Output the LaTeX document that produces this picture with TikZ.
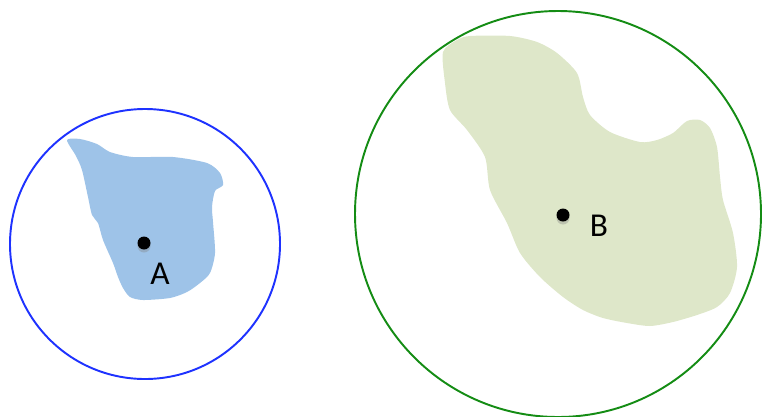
\documentclass[tikz,border=0pt]{standalone}
\usepackage{fontspec}
\setmainfont{Carlito}
\usepackage{tikz}
\usetikzlibrary{shadows,positioning}
\definecolor{rgBlue}{RGB}{30,50,255}
\definecolor{rgGreen}{RGB}{20,140,20}
\definecolor{rgFillBlue}{RGB}{158,195,232}
\definecolor{rgFillGreen}{RGB}{222,231,201}

\begin{document}
\begin{tikzpicture}[
  x=0.02cm, y=-0.02cm,
  font=\fontsize{19}{22}\selectfont,
  region/.style={draw=none, smooth cycle, tension=0.55},
  ring/.style={line width=1.1pt},
  pt/.style={circle, fill=black, inner sep=0pt, minimum size=0.26cm,
    drop shadow={opacity=0.35, shadow xshift=0pt, shadow yshift=-0.06cm}},
  lbl/.style={anchor=base, inner sep=0pt},
]
\useasboundingbox (0,0) rectangle (763,416);
% region A
\fill[rgFillBlue] plot[smooth cycle, tension=0.45] coordinates {
  (67,140) (80,139) (97,144) (110,152) (133,157) (173,157) (207,163)
  (220,173) (223,185) (215,191) (212,207) (213,222) (215,253) (210,273)
  (200,283) (187,292) (170,298) (143,300) (130,297) (123,288) (118,277)
  (113,263) (103,240) (98,223) (92,215) (88,197) (82,170) (76,156)};
\draw[ring, rgBlue] (145,244) circle[radius=135];
% region B
\fill[rgFillGreen] plot[smooth cycle, tension=0.45] coordinates {
  (443,52) (457,40) (470,36) (510,36) (537,42) (557,53) (577,73)
  (583,97) (590,115) (610,132) (640,142) (657,140) (673,133) (687,121)
  (700,120) (710,128) (717,147) (720,177) (723,200) (733,233) (737,267)
  (730,293) (717,307) (697,315) (673,322) (650,326) (627,323) (603,318)
  (583,310) (563,297) (540,277) (520,253) (507,223) (490,190) (485,157)
  (467,130) (450,110) (445,83)};
\draw[ring, rgGreen] (558,214) circle[radius=203];
% points
\node[pt] (ptA) at (144,243) {};
\node[lbl] (labA) at (160,284) {A};
\node[pt] (ptB) at (563,215) {};
\node[lbl] (labB) at (599,236) {B};
\end{tikzpicture}
\end{document}
